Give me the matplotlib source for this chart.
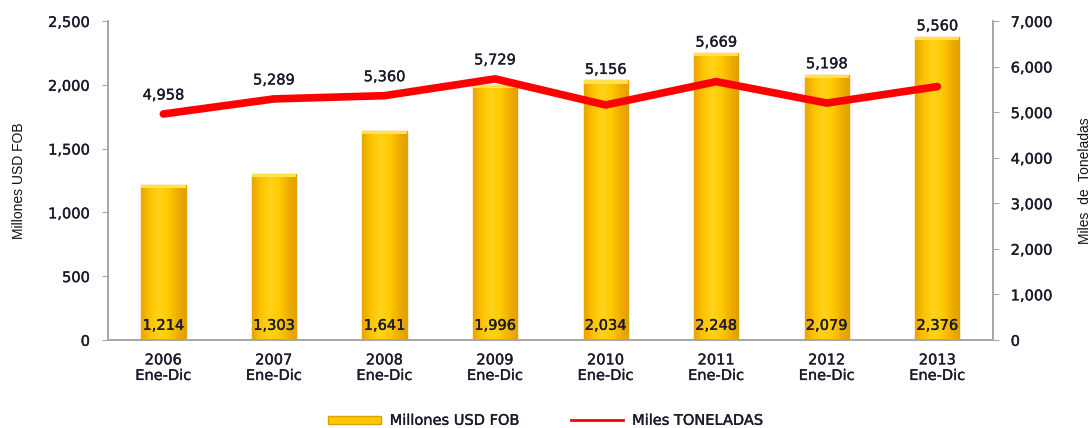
import matplotlib
matplotlib.use("Agg")
import matplotlib.pyplot as plt
from matplotlib.ticker import FuncFormatter, MultipleLocator
from matplotlib.lines import Line2D
from matplotlib.patches import Rectangle
from matplotlib.colors import LinearSegmentedColormap
import matplotlib.patheffects as pe
import numpy as np

plt.rcParams['font.family'] = ['DejaVu Sans']

years = ["2006", "2007", "2008", "2009", "2010", "2011", "2012", "2013"]
period = "Ene-Dic"
usd_fob = [1214, 1303, 1641, 1996, 2034, 2248, 2079, 2376]
miles_ton = [4958, 5289, 5360, 5729, 5156, 5669, 5198, 5560]

TXT = "#1a1a2a"
FS = 10.5
heavy = [pe.withStroke(linewidth=0.25, foreground=TXT)]

fig = plt.figure(figsize=(10.92, 4.28), dpi=100)
ax = fig.add_axes([0.099, 0.206, 0.810, 0.745])
ax2 = ax.twinx()

x = np.arange(len(years))
W = 0.40
bars = ax.bar(x, usd_fob, width=W, color="#FFC800", edgecolor="#E6A200",
              linewidth=1.0, zorder=2, label="Millones USD FOB")

# horizontal gradient to hint at the 3D look of the original bars
cmap = LinearSegmentedColormap.from_list(
    "gold", ["#E9A400", "#FFC400", "#FFD21A", "#FFCC00", "#F2B000", "#E0A000"])
grad = np.linspace(0, 1, 64).reshape(1, -1)
for b in bars:
    bx, by, bw, bh = b.get_x(), b.get_y(), b.get_width(), b.get_height()
    im = ax.imshow(grad, cmap=cmap, aspect="auto", extent=(bx, bx + bw, by, by + bh),
                   zorder=2.2, interpolation="bicubic")
    clip = Rectangle((bx, by), bw, bh, transform=ax.transData)
    im.set_clip_path(clip)
    ax.add_patch(Rectangle((bx, by + bh - 25), bw, 25, facecolor="#FFE24D",
                           edgecolor="none", zorder=2.3))

for xi, v in zip(x, usd_fob):
    ax.text(xi, 55, f"{v:,}", ha="center", va="bottom", fontsize=FS,
            color=TXT, zorder=5, path_effects=heavy)

ax.set_ylim(0, 2500)
ax.set_xlim(-0.5, len(years) - 0.5)
ax.yaxis.set_major_locator(MultipleLocator(500))
ax.yaxis.set_major_formatter(FuncFormatter(lambda v, p: f"{int(v):,}"))
ax.set_xticks(x)
ax.set_xticklabels([f"{y}\n{period}" for y in years], fontsize=FS,
                   color=TXT, linespacing=1.05)
for t in ax.get_xticklabels():
    t.set_path_effects(heavy)
ax.set_ylabel("Millones USD FOB", fontsize=10, family="Liberation Sans",
              color="#111111", labelpad=16)

line, = ax2.plot(x, miles_ton, color="#FF0000", linewidth=5.5,
                 solid_capstyle="round", zorder=4, label="Miles TONELADAS")
ax2.set_ylim(0, 7000)
px2 = 7000 / 319.0     # right-axis units per pixel
ratio = 7000 / 2500.0
for xi, v, b in zip(x, miles_ton, usd_fob):
    ly = max(v + 19 * px2, b * ratio + 11 * px2)
    ax2.text(xi, ly, f"{v:,}", ha="center", va="center", fontsize=FS,
             color=TXT, path_effects=heavy)
ax2.yaxis.set_major_locator(MultipleLocator(1000))
ax2.yaxis.set_major_formatter(FuncFormatter(lambda v, p: f"{int(v):,}"))
ax2.set_ylabel("Miles  de  Toneladas", fontsize=10, family="Liberation Sans",
               color="#111111", labelpad=18)

for a in (ax, ax2):
    a.spines['top'].set_visible(False)
    for s in ('left', 'right', 'bottom'):
        a.spines[s].set_color("#a6a6a6")
        a.spines[s].set_linewidth(1.2)
    a.tick_params(axis='y', labelsize=FS, colors="#a6a6a6", labelcolor=TXT,
                  length=4, pad=9)
    for t in a.get_yticklabels():
        t.set_path_effects(heavy)
ax.tick_params(axis='x', length=0, pad=9)
ax2.set_zorder(ax.get_zorder() + 1)
ax2.patch.set_visible(False)

h_bar = Rectangle((0, 0), 1, 1, facecolor="#FFC800", edgecolor="#D9A000")
h_line = Line2D([0], [0], color="#FF0000", linewidth=2)
leg = fig.legend([h_bar, h_line], ["Millones USD FOB", "Miles TONELADAS"],
                 loc="center", bbox_to_anchor=(0.5, 0.018), ncol=2, frameon=False,
                 fontsize=FS, handlelength=3.6, handleheight=0.45, columnspacing=3.5,
                 handletextpad=0.6)
for t in leg.get_texts():
    t.set_color(TXT)
    t.set_path_effects(heavy)

fig.savefig("out.png", dpi=100)
